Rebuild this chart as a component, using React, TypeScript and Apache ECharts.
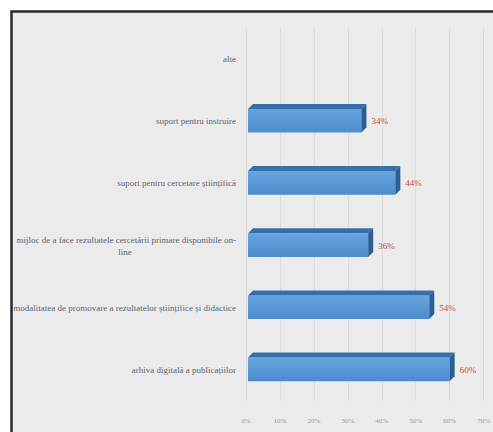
import React, { useEffect, useRef } from "react";
import * as echarts from "echarts";

const categories = [
  "alte",
  "suport pentru instruire",
  "suport pentru cercetare științifică",
  "mijloc de a face rezultatele cercetării primare disponibile on-line",
  "modalitatea de promovare a rezultatelor științifice și didactice",
  "arhiva digitală a publicațiilor",
];
const values: (number | null)[] = [null, 34, 44, 36, 54, 60];
const axisMax = 70;
const axisStep = 10;

export default function App() {
  const ref = useRef<HTMLDivElement>(null);
  useEffect(() => {
    if (!ref.current) return;
    const chart = echarts.init(ref.current, null, { renderer: "svg" });
    const font = "Liberation Serif";
    const data = values
      .map((v, i) => (v == null ? null : [v, i]))
      .filter((d) => d != null);
    chart.setOption({
      animation: false,
      backgroundColor: "#ffffff",
      graphic: [
        {
          type: "rect",
          z: -10,
          shape: { x: 11.5, y: 11.5, width: 520, height: 460 },
          style: { fill: "#ebebeb", stroke: "#2a2a2a", lineWidth: 2.5 },
        },
      ],
      grid: { left: 246, right: 8, top: 28, bottom: 31 },
      xAxis: {
        type: "value",
        min: 0,
        max: axisMax,
        interval: axisStep,
        axisLine: { show: false },
        axisTick: { show: false },
        splitLine: { show: true, lineStyle: { color: "#dcdcdc", width: 1 } },
        axisLabel: {
          formatter: "{value}%",
          color: "#9a9a9a",
          fontFamily: font,
          fontSize: 7,
          margin: 16,
        },
      },
      yAxis: {
        type: "category",
        data: categories,
        inverse: true,
        axisLine: { show: false },
        axisTick: { show: false },
        axisLabel: {
          color: "#5a6470",
          fontFamily: font,
          fontSize: 9,
          margin: 10,
          lineHeight: 12,
          align: "right",
          formatter: (s: string) => {
            if (s.indexOf("on-line") >= 0) {
              return "{a|" + s.replace("on-line", "on-") + "}\n{b|line}";
            }
            return s;
          },
          rich: {
            a: { color: "#5a6470", fontFamily: font, fontSize: 9, lineHeight: 12 },
            b: {
              color: "#5a6470",
              fontFamily: font,
              fontSize: 9,
              lineHeight: 12,
              width: 222,
              align: "center",
            },
          },
        },
      },
      series: [
        {
          type: "custom",
          encode: { x: 0, y: 1 },
          data,
          renderItem: (params: any, api: any) => {
            const v = api.value(0);
            const cat = api.value(1);
            const start = api.coord([0, cat]);
            const end = api.coord([v, cat]);
            const bandH = api.size([0, 1])[1];
            const h = bandH * 0.46;
            const d = 5;
            const x0 = start[0] + 2;
            const x1 = end[0];
            const yc = start[1] - 3;
            const top = yc - h / 2;
            const bot = yc + h / 2;
            return {
              type: "group",
              children: [
                {
                  type: "rect",
                  shape: { x: x0, y: top + d, width: x1 - x0, height: h - d },
                  style: {
                    fill: new echarts.graphic.LinearGradient(0, 0, 0, 1, [
                      { offset: 0, color: "#68a4e0" },
                      { offset: 1, color: "#4d8bcc" },
                    ]),
                  },
                },
                {
                  type: "polygon",
                  shape: {
                    points: [
                      [x0, top + d],
                      [x0 + d, top],
                      [x1 + d, top],
                      [x1, top + d],
                    ],
                  },
                  style: { fill: "#3670ab" },
                },
                {
                  type: "polygon",
                  shape: {
                    points: [
                      [x1, top + d],
                      [x1 + d, top],
                      [x1 + d, bot - d],
                      [x1, bot],
                    ],
                  },
                  style: { fill: "#2c5e94" },
                },
                {
                  type: "text",
                  style: {
                    text: v + "%",
                    x: x1 + d + 5,
                    y: yc + 3,
                    fill: "#c8474a",
                    fontFamily: font,
                    fontSize: 9,
                    verticalAlign: "middle",
                    align: "left",
                  },
                },
              ],
            };
          },
        },
      ],
    });
    return () => chart.dispose();
  }, []);
  return (
    <div
      ref={ref}
      style={{ position: "fixed", left: 0, top: 0, width: 493, height: 432 }}
    />
  );
}
